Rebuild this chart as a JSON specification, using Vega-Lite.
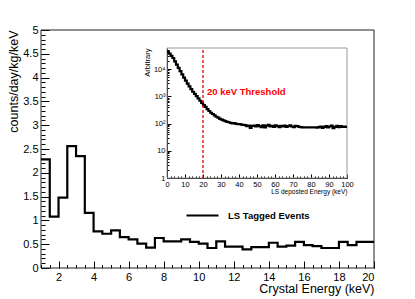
{
  "$schema": "https://vega.github.io/schema/vega-lite/v6.json",
  "width": 333,
  "height": 238,
  "autosize": {"type": "none"},
  "padding": {"left": 41, "top": 30, "right": 41, "bottom": 31},
  "background": "white",
  "config": {
    "view": {"stroke": null},
    "font": "Liberation Sans",
    "axis": {"grid": false, "labelColor": "black", "titleColor": "black", "tickColor": "black", "domainColor": "black", "titleFontWeight": "normal", "labelFont": "Liberation Sans", "titleFont": "Liberation Sans", "labelOverlap": false}
  },
  "datasets": {
    "main": [
      {"E": 1, "rate": 2.28}, {"E": 1.5, "rate": 1.08}, {"E": 2, "rate": 1.48}, {"E": 2.5, "rate": 2.56},
      {"E": 3, "rate": 2.35}, {"E": 3.5, "rate": 1.16}, {"E": 4, "rate": 0.77}, {"E": 4.5, "rate": 0.72},
      {"E": 5, "rate": 0.79}, {"E": 5.5, "rate": 0.65}, {"E": 6, "rate": 0.6}, {"E": 6.5, "rate": 0.51},
      {"E": 7, "rate": 0.43}, {"E": 7.5, "rate": 0.63}, {"E": 8, "rate": 0.56}, {"E": 8.5, "rate": 0.56},
      {"E": 9, "rate": 0.6}, {"E": 9.5, "rate": 0.55}, {"E": 10, "rate": 0.51}, {"E": 10.5, "rate": 0.42},
      {"E": 11, "rate": 0.56}, {"E": 11.5, "rate": 0.45}, {"E": 12, "rate": 0.45}, {"E": 12.5, "rate": 0.39},
      {"E": 13, "rate": 0.44}, {"E": 13.5, "rate": 0.44}, {"E": 14, "rate": 0.53}, {"E": 14.5, "rate": 0.45},
      {"E": 15, "rate": 0.47}, {"E": 15.5, "rate": 0.55}, {"E": 16, "rate": 0.48}, {"E": 16.5, "rate": 0.46},
      {"E": 17, "rate": 0.42}, {"E": 17.5, "rate": 0.42}, {"E": 18, "rate": 0.55}, {"E": 18.5, "rate": 0.48},
      {"E": 19, "rate": 0.55}, {"E": 19.5, "rate": 0.55}, {"E": 20, "rate": 0.55}
    ],
    "inset": [
      {"E": 0, "v": 44700}, {"E": 1, "v": 37200}, {"E": 2, "v": 30900}, {"E": 3, "v": 25700}, {"E": 4, "v": 19500},
      {"E": 5, "v": 14800}, {"E": 6, "v": 11200}, {"E": 7, "v": 8500}, {"E": 8, "v": 6460}, {"E": 9, "v": 4900},
      {"E": 10, "v": 3800}, {"E": 11, "v": 2950}, {"E": 12, "v": 2340}, {"E": 13, "v": 1860}, {"E": 14, "v": 1480},
      {"E": 15, "v": 1230}, {"E": 16, "v": 1020}, {"E": 17, "v": 850}, {"E": 18, "v": 690}, {"E": 19, "v": 575},
      {"E": 20, "v": 480}, {"E": 21, "v": 410}, {"E": 22, "v": 340}, {"E": 23, "v": 290}, {"E": 24, "v": 250},
      {"E": 25, "v": 225}, {"E": 26, "v": 200}, {"E": 27, "v": 178}, {"E": 28, "v": 166}, {"E": 29, "v": 150},
      {"E": 30, "v": 141}, {"E": 31, "v": 132}, {"E": 32, "v": 123}, {"E": 33, "v": 115}, {"E": 34, "v": 112},
      {"E": 35, "v": 107}, {"E": 36, "v": 102}, {"E": 37, "v": 105}, {"E": 38, "v": 98}, {"E": 39, "v": 95},
      {"E": 40, "v": 95}, {"E": 41, "v": 92}, {"E": 42, "v": 90}, {"E": 43, "v": 88}, {"E": 44, "v": 80},
      {"E": 45, "v": 84}, {"E": 46, "v": 70}, {"E": 47, "v": 82}, {"E": 48, "v": 85}, {"E": 49, "v": 78},
      {"E": 50, "v": 88}, {"E": 51, "v": 80}, {"E": 52, "v": 74}, {"E": 53, "v": 86}, {"E": 54, "v": 72},
      {"E": 55, "v": 84}, {"E": 56, "v": 90}, {"E": 57, "v": 78}, {"E": 58, "v": 82}, {"E": 59, "v": 76},
      {"E": 60, "v": 86}, {"E": 61, "v": 80}, {"E": 62, "v": 74}, {"E": 63, "v": 82}, {"E": 64, "v": 78},
      {"E": 65, "v": 84}, {"E": 66, "v": 76}, {"E": 67, "v": 80}, {"E": 68, "v": 86}, {"E": 69, "v": 78},
      {"E": 70, "v": 74}, {"E": 71, "v": 82}, {"E": 72, "v": 80}, {"E": 73, "v": 76}, {"E": 74, "v": 74},
      {"E": 75, "v": 72}, {"E": 76, "v": 72}, {"E": 77, "v": 73}, {"E": 78, "v": 72}, {"E": 79, "v": 72},
      {"E": 80, "v": 73}, {"E": 81, "v": 72}, {"E": 82, "v": 72}, {"E": 83, "v": 71}, {"E": 84, "v": 74},
      {"E": 85, "v": 78}, {"E": 86, "v": 70}, {"E": 87, "v": 76}, {"E": 88, "v": 80}, {"E": 89, "v": 72},
      {"E": 90, "v": 78}, {"E": 91, "v": 84}, {"E": 92, "v": 68}, {"E": 93, "v": 76}, {"E": 94, "v": 82},
      {"E": 95, "v": 74}, {"E": 96, "v": 80}, {"E": 97, "v": 76}, {"E": 98, "v": 78}, {"E": 99, "v": 76},
      {"E": 100, "v": 76}
    ],
    "one": [{}]
  },
  "layer": [
    {
      "data": {"name": "one"},
      "mark": {"type": "rect", "filled": false, "stroke": "#222", "strokeWidth": 1},
      "encoding": {
        "x": {"datum": 1, "type": "quantitative", "scale": {"domain": [1, 20], "nice": false, "zero": false},
          "axis": {"orient": "bottom", "values": [1,1.5,2,2.5,3,3.5,4,4.5,5,5.5,6,6.5,7,7.5,8,8.5,9,9.5,10,10.5,11,11.5,12,12.5,13,13.5,14,14.5,15,15.5,16,16.5,17,17.5,18,18.5,19,19.5,20], "tickSize": -3.5, "labels": false, "domain": false, "title": null}},
        "x2": {"datum": 20},
        "y": {"datum": 0, "type": "quantitative", "scale": {"domain": [0, 5], "nice": false, "zero": false},
          "axis": {"orient": "left", "values": [0,0.1,0.2,0.3,0.4,0.5,0.6,0.7,0.8,0.9,1,1.1,1.2,1.3,1.4,1.5,1.6,1.7,1.8,1.9,2,2.1,2.2,2.3,2.4,2.5,2.6,2.7,2.8,2.9,3,3.1,3.2,3.3,3.4,3.5,3.6,3.7,3.8,3.9,4,4.1,4.2,4.3,4.4,4.5,4.6,4.7,4.8,4.9,5], "tickSize": -4, "labels": false, "domain": false, "title": null}},
        "y2": {"datum": 5}
      }
    },
    {
      "data": {"name": "main"},
      "mark": {"type": "line", "interpolate": "step-after", "strokeWidth": 2.2},
      "encoding": {
        "x": {"field": "E", "type": "quantitative", "scale": {"domain": [1, 20], "nice": false, "zero": false},
          "axis": {"orient": "bottom", "values": [2,4,6,8,10,12,14,16,18,20], "format": "~g", "tickSize": -7, "labelPadding": 10.5, "labelFontSize": 11, "labelOverlap": false, "domain": false,
            "title": "Crystal Energy (keV)", "titleAnchor": "end", "titleFontSize": 12.5, "titlePadding": 0}},
        "y": {"field": "rate", "type": "quantitative", "scale": {"domain": [0, 5], "nice": false, "zero": false},
          "axis": {"orient": "left", "values": [0,0.5,1,1.5,2,2.5,3,3.5,4,4.5,5], "format": "~g", "tickSize": -8, "labelPadding": 11, "labelFontSize": 11, "labelFlush": false, "labelOverlap": false, "domain": false,
            "title": "counts/day/kg/keV", "titleAnchor": "end", "titleFontSize": 12.5, "titlePadding": 2}},
        "color": {"datum": "LS Tagged Events", "type": "nominal", "scale": {"range": ["black"]},
          "legend": {"orient": "none", "legendX": 144, "legendY": 168, "title": null, "padding": 0,
            "symbolType": "stroke", "symbolSize": 1024, "symbolStrokeWidth": 2.2, "symbolStrokeColor": "black",
            "labelFontSize": 9.5, "labelFontWeight": "bold", "labelColor": "black", "labelOffset": 8, "labelFont": "Liberation Sans"}}
      }
    },
    {
      "data": {"name": "one"},
      "mark": {"type": "rect", "filled": false, "stroke": "#999", "strokeWidth": 1},
      "encoding": {
        "x": {"datum": 0, "type": "quantitative", "scale": {"domain": [0, 100], "range": [126, 306], "nice": false, "zero": false},
          "axis": {"orient": "bottom", "offset": -90, "values": [2,4,6,8,12,14,16,18,22,24,26,28,32,34,36,38,42,44,46,48,52,54,56,58,62,64,66,68,72,74,76,78,82,84,86,88,92,94,96,98], "tickSize": -2, "labels": false, "domain": false, "title": null}},
        "x2": {"datum": 100},
        "y": {"datum": 1, "type": "quantitative", "scale": {"type": "log", "domain": [1, 60000], "range": [148, 18], "nice": false},
          "axis": {"orient": "left", "offset": -126, "values": [2,3,4,5,6,7,8,9,20,30,40,50,60,70,80,90,200,300,400,500,600,700,800,900,2000,3000,4000,5000,6000,7000,8000,9000,20000,30000,40000,50000], "tickSize": -2, "labels": false, "domain": false, "title": null}},
        "y2": {"datum": 60000}
      }
    },
    {
      "resolve": {"axis": {"x": "independent", "y": "independent"}},
      "layer": [
        {
          "data": {"name": "inset"},
          "mark": {"type": "line", "interpolate": "step-after", "strokeWidth": 2.2, "color": "black"},
          "encoding": {
            "x": {"field": "E", "type": "quantitative", "scale": {"domain": [0, 100], "range": [126, 306], "nice": false, "zero": false},
              "axis": {"orient": "bottom", "offset": -90, "values": [0,10,20,30,40,50,60,70,80,90,100], "tickSize": -4, "labelPadding": 6.5, "labelFontSize": 7.5, "labelFlush": false, "labelOverlap": false, "domain": true, "domainWidth": 1,
                "title": "LS deposted Energy (keV)", "titleAnchor": "end", "titleFontSize": 6.5, "titlePadding": 0}},
            "y": {"field": "v", "type": "quantitative", "scale": {"type": "log", "domain": [1, 60000], "range": [148, 18], "nice": false},
              "axis": {"orient": "left", "offset": -126, "values": [1, 10, 100, 1000, 10000], "tickSize": -4, "labelPadding": 6, "labelFontSize": 7.5, "labelFlush": false, "labelOverlap": false, "domain": true,
                "labelExpr": "datum.value == 1 ? '1' : datum.value == 10 ? '10' : datum.value == 100 ? '10²' : datum.value == 1000 ? '10³' : '10⁴'",
                "title": "Arbitrary", "titleAnchor": "end", "titleFontSize": 7.5, "titlePadding": 2}}
          }
        },
        {
          "data": {"name": "one"},
          "mark": {"type": "rule", "color": "#e00000", "strokeDash": [3, 2], "strokeWidth": 1.3},
          "encoding": {
            "x": {"datum": 20, "type": "quantitative", "scale": {"domain": [0, 100], "range": [126, 306], "nice": false, "zero": false}, "axis": null},
            "y": {"datum": 1, "type": "quantitative", "scale": {"type": "log", "domain": [1, 60000], "range": [148, 18], "nice": false}, "axis": null},
            "y2": {"datum": 60000}
          }
        },
        {
          "data": {"name": "one"},
          "mark": {"type": "text", "text": "20 keV Threshold", "color": "#ff0000", "fontWeight": "bold", "fontSize": 9.5, "align": "left", "baseline": "middle", "font": "Liberation Sans"},
          "encoding": {
            "x": {"datum": 22.2, "type": "quantitative", "scale": {"domain": [0, 100], "range": [126, 306], "nice": false, "zero": false}, "axis": null},
            "y": {"datum": 1400, "type": "quantitative", "scale": {"type": "log", "domain": [1, 60000], "range": [148, 18], "nice": false}, "axis": null}
          }
        }
      ]
    }
  ],
  "resolve": {
    "scale": {"x": "independent", "y": "independent", "color": "independent"},
    "axis": {"x": "independent", "y": "independent"}
  }
}
